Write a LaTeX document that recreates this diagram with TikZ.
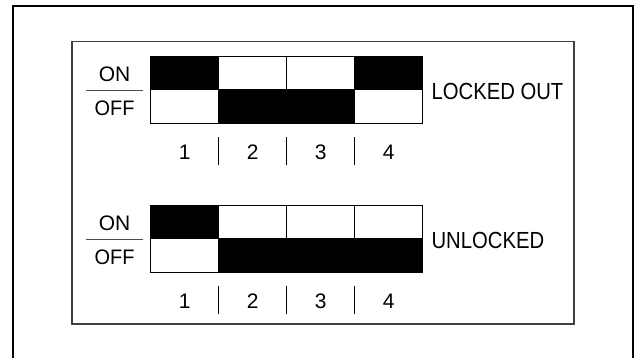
\documentclass[tikz,border=0pt]{standalone}
\usepackage{fontspec}
\setmainfont{Liberation Sans}
\usepackage{graphicx}
\newcommand{\lblfont}{\fontsize{21}{21}\selectfont}
\newcommand{\ttlfont}{\fontsize{23.3}{23.3}\selectfont}
\begin{document}
\begin{tikzpicture}[x=1pt,y=-1pt,
  outerframe/.style={line width=2pt,black},
  innerframe/.style={line width=1.2pt,black!75},
  oncell/.style={draw=black,line width=0.9pt,fill=black},
  offcell/.style={draw=black,line width=0.9pt,fill=white},
  tick/.style={line width=0.9pt,black},
  sep/.style={line width=0.9pt,black!70},
  onoff/.style={inner sep=0pt,anchor=base},
  num/.style={inner sep=0pt,anchor=base},
  title/.style={inner sep=0pt,anchor=base west}]
\useasboundingbox (0,0) rectangle (636,358);
% outer frame (open at bottom)
\draw[outerframe] (12.5,360) -- (12.5,6) -- (632.5,6) -- (632.5,360);
% inner frame
\draw[innerframe] (72,41.7) rectangle (574,324);
\foreach \yt/\states/\lab/\labtxt in {56/{1,0,0,1}/lo/{LOCKED OUT}, 205/{1,0,0,0}/ul/{UNLOCKED}}{
  \foreach \s [count=\i from 0] in \states {
    \pgfmathsetmacro{\xl}{150.7+68*\i}
    \pgfmathsetmacro{\xr}{\xl+68}
    \pgfmathsetmacro{\ym}{\yt+33.6}
    \pgfmathsetmacro{\yb}{\yt+67.2}
    \ifnum\s=1
      \draw[oncell] (\xl,\yt) rectangle (\xr,\ym);
      \draw[offcell] (\xl,\ym) rectangle (\xr,\yb);
    \else
      \draw[offcell] (\xl,\yt) rectangle (\xr,\ym);
      \draw[oncell] (\xl,\ym) rectangle (\xr,\yb);
    \fi
  }
  \draw[line width=0.9pt] (150.7,\yt) rectangle (422.7,\yt+67.2);
  \node[onoff] (\lab-on) at (114.6,\yt+25.7) {\lblfont ON};
  \node[onoff] (\lab-off) at (114.6,\yt+59.7) {\lblfont\scalebox{0.95}[1]{OFF}};
  \draw[sep] (86,\yt+34.3) -- (143.3,\yt+34.3);
  \node[title] (\lab-t) at (431.4,\yt+43.3) {\ttlfont\scalebox{0.87}[1]{\labtxt}};
  \foreach \k in {1,2,3} {
    \draw[tick] (150.7+68*\k,\yt+81) -- (150.7+68*\k,\yt+109);
  }
  \foreach \k in {1,2,3,4} {
    \node[num] (\lab-n\k) at (150.7+68*\k-34,\yt+103.3) {\lblfont\k};
  }
}
\end{tikzpicture}
\end{document}
